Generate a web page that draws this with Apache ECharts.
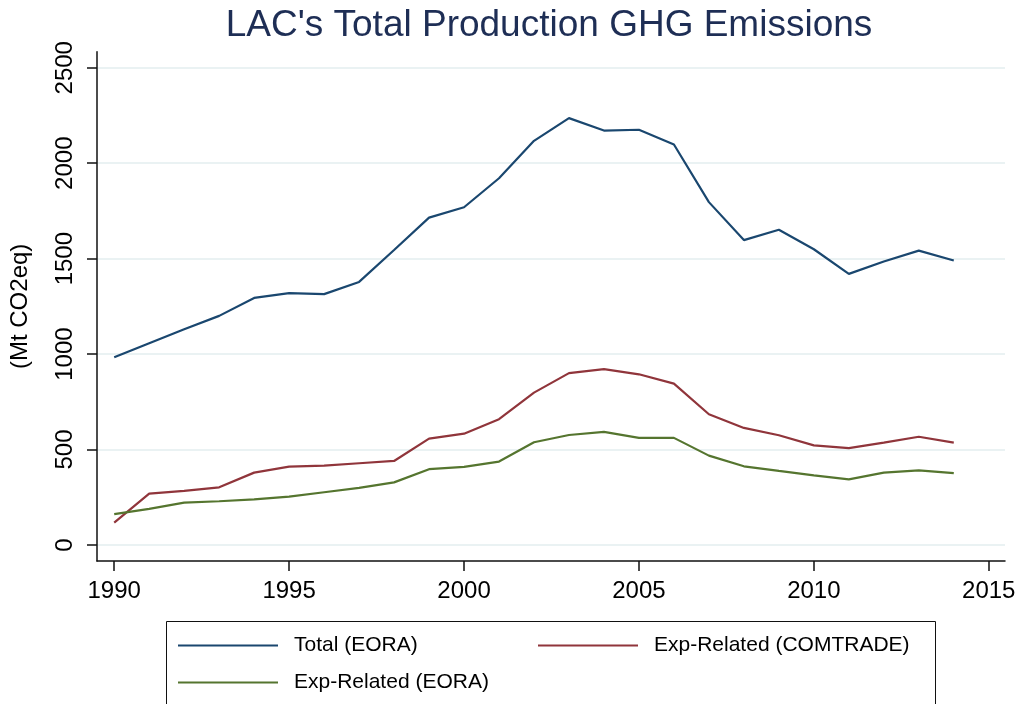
<!DOCTYPE html>
<html>
<head>
<meta charset="utf-8">
<title>LAC's Total Production GHG Emissions</title>
<script src="https://cdn.jsdelivr.net/npm/echarts@6/dist/echarts.min.js"></script>
<style>
  html, body { margin: 0; padding: 0; background: #fff; }
  #main { width: 1022px; height: 704px; }
</style>
</head>
<body>
<div id="main"></div>
<script>
var years = [1990, 1991, 1992, 1993, 1994, 1995, 1996, 1997, 1998, 1999, 2000, 2001, 2002,
             2003, 2004, 2005, 2006, 2007, 2008, 2009, 2010, 2011, 2012, 2013, 2014];
var totalEora = [983, 1057, 1130, 1200, 1294, 1319, 1314, 1378, 1545, 1715, 1769, 1921, 2117,
                 2236, 2171, 2175, 2098, 1796, 1597, 1651, 1549, 1420, 1485, 1542, 1490];
var expComtrade = [117, 269, 283, 302, 379, 410, 416, 428, 440, 557, 583, 659, 798,
                   900, 921, 894, 845, 685, 613, 575, 522, 507, 536, 567, 536];
var expEora = [162, 189, 222, 229, 239, 253, 276, 299, 328, 397, 409, 437, 538,
               576, 592, 561, 561, 468, 412, 388, 365, 344, 379, 391, 376];
var xTicks = [1990, 1995, 2000, 2005, 2010, 2015];
var yTicks = [0, 500, 1000, 1500, 2000, 2500];

var names = ['Total (EORA)', 'Exp-Related (COMTRADE)', 'Exp-Related (EORA)'];
var colors = ['#1a476f', '#90353b', '#55752f'];

function pairs(vals) {
    return years.map(function (y, i) { return [y, vals[i]]; });
}
// plain numbers, no thousands separator
function plain(v) { return String(v); }

var myChart = echarts.init(document.getElementById('main'));

function legendAt(name, left, top) {
    return {
        data: [name],
        left: left,
        top: top,
        padding: 0,
        icon: 'rect',
        itemWidth: 100,
        itemHeight: 2,
        selectedMode: false,
        textStyle: {
            fontFamily: 'Liberation Sans',
            fontSize: 21,
            color: '#000',
            padding: [0, 0, 0, 11]
        }
    };
}

var option = {
    animation: false,
    backgroundColor: '#fff',
    textStyle: { fontFamily: 'Liberation Sans' },
    title: {
        text: "LAC's Total Production GHG Emissions",
        left: 544,
        top: 2,
        textAlign: 'center',
        textStyle: {
            fontFamily: 'Liberation Sans',
            fontSize: 37,
            fontWeight: 'normal',
            color: '#1e2e55'
        }
    },
    grid: { left: 92.7, right: 17, top: 51.7, bottom: 143 },
    xAxis: {
        type: 'value',
        min: 1989.508,
        max: 2015.464,
        axisLine: { show: true, onZero: false, lineStyle: { color: '#111', width: 1.5 } },
        axisTick: { show: true, customValues: xTicks, length: 10, lineStyle: { color: '#111', width: 1.5 } },
        axisLabel: { customValues: xTicks, formatter: plain, fontSize: 24, color: '#000', margin: 18 },
        splitLine: { show: false }
    },
    yAxis: {
        type: 'value',
        min: -84,
        max: 2584,
        name: '(Mt CO2eq)',
        nameLocation: 'middle',
        nameGap: 65,
        nameTextStyle: { fontSize: 24, color: '#000' },
        axisLine: { show: true, onZero: false, lineStyle: { color: '#111', width: 1.5 } },
        axisTick: { show: true, customValues: yTicks, length: 10, lineStyle: { color: '#111', width: 1.5 } },
        axisLabel: { customValues: yTicks, formatter: plain, fontSize: 24, color: '#000', rotate: 90, margin: 20 },
        splitLine: { show: true, lineStyle: { color: '#eaf2f3', width: 2 } }
    },
    legend: [
        legendAt(names[0], 178, 635),
        legendAt(names[1], 538, 635),
        legendAt(names[2], 178, 672)
    ],
    graphic: [{
        type: 'rect',
        shape: { x: 166.5, y: 621.5, width: 769, height: 110 },
        style: { fill: 'none', stroke: '#111', lineWidth: 1 },
        silent: true
    }],
    series: [
        {
            name: names[0], type: 'line', data: pairs(totalEora),
            showSymbol: false, symbol: 'none', color: colors[0],
            lineStyle: { width: 2.2, color: colors[0] }
        },
        {
            name: names[1], type: 'line', data: pairs(expComtrade),
            showSymbol: false, symbol: 'none', color: colors[1],
            lineStyle: { width: 2.2, color: colors[1] }
        },
        {
            name: names[2], type: 'line', data: pairs(expEora),
            showSymbol: false, symbol: 'none', color: colors[2],
            lineStyle: { width: 2.2, color: colors[2] }
        }
    ]
};

myChart.setOption(option);
</script>
</body>
</html>
